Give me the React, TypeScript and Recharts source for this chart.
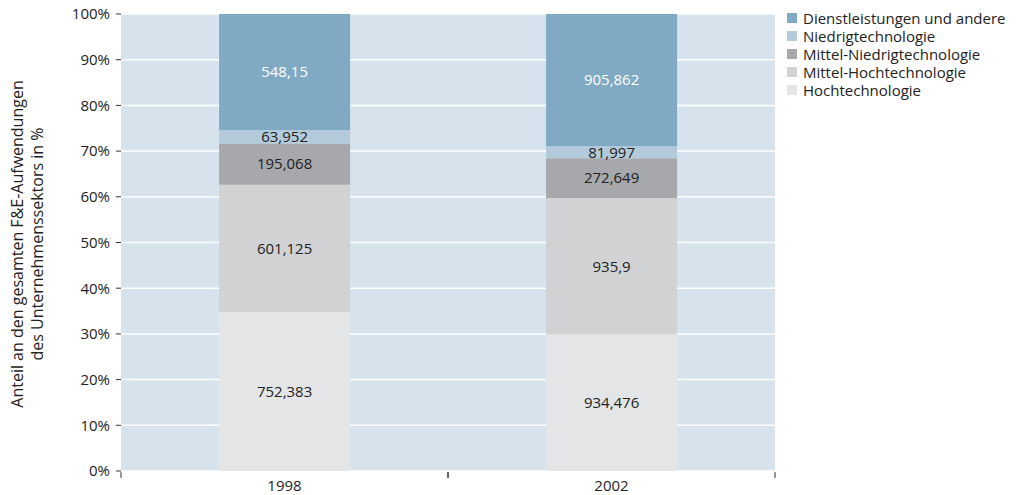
import React from 'react';
import {
  BarChart, Bar, XAxis, YAxis, CartesianGrid, LabelList,
} from 'recharts';

const years = ['1998', '2002'];
const hoch = [752.383, 934.476];
const mittelHoch = [601.125, 935.9];
const mittelNiedrig = [195.068, 272.649];
const niedrig = [63.952, 81.997];
const dienst = [548.15, 905.862];
const yTicks = [0, 0.1, 0.2, 0.3, 0.4, 0.5, 0.6, 0.7, 0.8, 0.9, 1];

const series = [
  { key: 'hoch', name: 'Hochtechnologie', color: '#e4e5e7', text: '#222' },
  { key: 'mittelHoch', name: 'Mittel-Hochtechnologie', color: '#d1d2d4', text: '#222' },
  { key: 'mittelNiedrig', name: 'Mittel-Niedrigtechnologie', color: '#a7a8ab', text: '#222' },
  { key: 'niedrig', name: 'Niedrigtechnologie', color: '#b3cadb', text: '#222' },
  { key: 'dienst', name: 'Dienstleistungen und andere', color: '#80aac4', text: '#fff' },
];

const data = years.map((year, i) => ({
  year,
  hoch: hoch[i],
  mittelHoch: mittelHoch[i],
  mittelNiedrig: mittelNiedrig[i],
  niedrig: niedrig[i],
  dienst: dienst[i],
}));

const FONT = '"Open Sans", sans-serif';
const FS = 15;
const BAND = 327;

const fmt = (v: any) => (Array.isArray(v) ? '' : String(v).replace('.', ','));

const XTick = (props: any) => {
  const { x, y, payload } = props;
  return (
    <g>
      <line x1={x - BAND / 2} x2={x - BAND / 2} y1={y - 7} y2={y - 1} stroke="#333" />
      <line x1={x + BAND / 2} x2={x + BAND / 2} y1={y - 7} y2={y - 1} stroke="#333" />
      <text x={x} y={y + 12} textAnchor="middle" fontSize={FS} fill="#222" fontFamily={FONT}>
        {payload.value}
      </text>
    </g>
  );
};

const YTitle = () => (
  <g fontFamily={FONT} fontSize={16} fill="#222">
    <text transform="translate(23,244) rotate(-90)" textAnchor="middle">
      Anteil an den gesamten F&amp;E-Aufwendungen
    </text>
    <text transform="translate(43,244) rotate(-90)" textAnchor="middle">
      des Unternehmenssektors in %
    </text>
  </g>
);

const LegendBox = () => (
  <div style={{ position: 'absolute', left: 787, top: 9, fontFamily: FONT, fontSize: FS, color: '#222', lineHeight: '18px' }}>
    {[...series].reverse().map((s) => (
      <div key={s.key} style={{ display: 'flex', alignItems: 'center', height: 18, whiteSpace: 'nowrap' }}>
        <span style={{ width: 10, height: 10, background: s.color, marginRight: 6, display: 'inline-block' }} />
        <span>{s.name}</span>
      </div>
    ))}
  </div>
);

export default function App() {
  return (
    <div style={{ position: 'absolute', left: 0, top: 0, width: 1017, height: 495 }}>
      <BarChart
        width={1017}
        height={495}
        data={data}
        stackOffset="expand"
        barCategoryGap="30%"
        margin={{ top: 14, right: 242, bottom: 0, left: 0 }}
      >
        <CartesianGrid vertical={false} stroke="#ffffff" strokeWidth={1.5} fill="#d6e3ec" />
        <XAxis
          dataKey="year"
          axisLine={false}
          tickLine={false}
          tick={<XTick />}
          height={24}
          interval={0}
        />
        <YAxis
          width={121}
          domain={[0, 1]}
          ticks={yTicks}
          tickFormatter={(v) => `${Math.round(v * 100)}%`}
          axisLine={false}
          tickSize={5}
          tickMargin={6}
          tickLine={{ stroke: '#333' }}
          tick={{ fontSize: FS, fill: '#222', fontFamily: FONT }}
          label={{ content: () => <YTitle /> }}
        />
        {series.map((s) => (
          <Bar key={s.key} dataKey={s.key} name={s.name} stackId="a" fill={s.color} isAnimationActive={false}>
            <LabelList
              dataKey={s.key}
              position="center"
              formatter={fmt}
              style={{ fontSize: FS, fill: s.text, fontFamily: FONT }}
            />
          </Bar>
        ))}
      </BarChart>
      <LegendBox />
    </div>
  );
}
